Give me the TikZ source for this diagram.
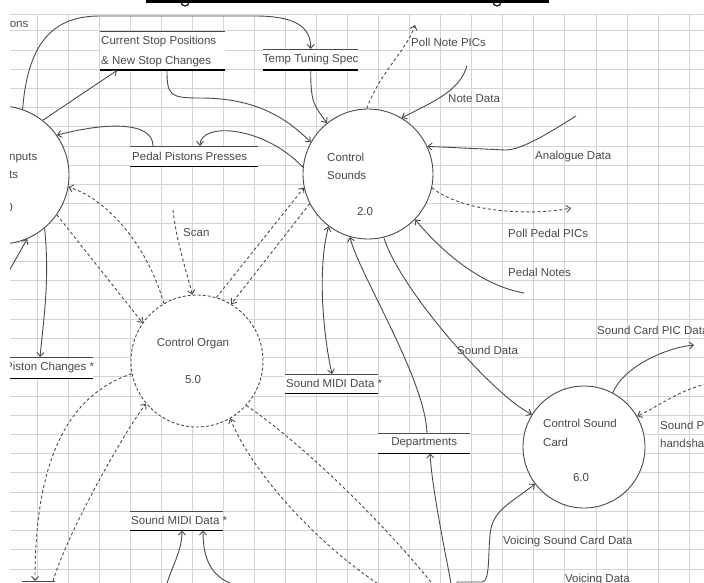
\documentclass[tikz,border=0pt]{standalone}
\usepackage{fontspec}
\setmainfont{Liberation Sans}
\usetikzlibrary{arrows.meta}
\definecolor{ink}{HTML}{4A4A4A}
\definecolor{gridgray}{HTML}{D4D4D4}
\definecolor{shade}{HTML}{A6A6A6}
\tikzset{
  proc/.style={draw=ink,line width=0.9pt,circle,fill=white,inner sep=0pt},
  ctlproc/.style={proc,dash pattern=on 3pt off 2pt},
  store/.style={fill=white,inner sep=0pt,anchor=north west},
  storetop/.style={ink,line width=0.9pt},
  storebot/.style={shade,line width=1.8pt},
  ptext/.style={text=ink,font=\fontsize{11.5}{18}\selectfont,inner sep=0pt},
  flowlabel/.style={ptext,anchor=west},
  flow/.style={-{Straight Barb[length=4pt,width=7pt]},ink,line width=0.9pt},
  biflow/.style={{Straight Barb[length=4pt,width=7pt]}-{Straight Barb[length=4pt,width=7pt]},ink,line width=0.9pt},
  ctrlflow/.style={flow,dash pattern=on 3pt off 2.5pt},
  gridline/.style={gridgray,line width=0.8pt}
}

\begin{document}
\begin{tikzpicture}[x=1pt,y=-1pt]
  \useasboundingbox (0,0) rectangle (704,583);
  \fill[white] (0,0) rectangle (704,583);

  % remnant of the title bar
  \fill[black] (146,0) rectangle (549,3.5);
  \draw[line width=1.1pt] (181,2) arc[start angle=180,end angle=0,radius=4];
  \draw[line width=1.1pt] (493,2) arc[start angle=180,end angle=0,radius=4];

  \begin{scope}
  \clip (10,5) rectangle (704,583);

  % grid paper
  \draw[gridline] (10,14) -- (704,14);
  \foreach \k in {0,...,28}
    \draw[gridline] (10,{30.8+19.22*\k}) -- (704,{30.8+19.22*\k});
  \foreach \k in {0,...,21}
    \draw[gridline] ({37+31.05*\k},14) -- ({37+31.05*\k},583);

  % processes
  \node[proc,minimum size=138pt] (inp) at (0,175) {};
  \node[proc,minimum size=130pt] (snd) at (368,174) {};
  \node[ctlproc,minimum size=132pt] (org) at (197,361) {};
  \node[proc,minimum size=122pt] (card) at (584,447) {};

  \node[ptext,anchor=west] (inp-a) at (9,158) {nputs};
  \node[ptext,anchor=west] (inp-b) at (9,175) {ts};
  \node[ptext,anchor=east] (inp-n) at (13,208) {1.0};
  \node[ptext,anchor=west] (snd-a) at (327,157) {Control};
  \node[ptext,anchor=west] (snd-b) at (327,175) {Sounds};
  \node[ptext] (snd-n) at (365,212) {2.0};
  \node[ptext] (org-a) at (193,344) {Control Organ};
  \node[ptext] (org-n) at (193,380) {5.0};
  \node[ptext,anchor=west] (card-a) at (543,423) {Control Sound};
  \node[ptext,anchor=west] (card-b) at (543,442) {Card};
  \node[ptext] (card-n) at (581,478) {6.0};

  % data stores
  \node[store,minimum width=125pt,minimum height=39pt] (cs) at (100,31) {};
  \node[store,minimum width=95pt,minimum height=21pt] (tts) at (263,49) {};
  \node[store,minimum width=128pt,minimum height=20pt] (pp) at (130,146) {};
  \node[store,minimum width=88pt,minimum height=21pt] (pc) at (5,357) {};
  \node[store,minimum width=93pt,minimum height=19pt] (smd) at (285,374) {};
  \node[store,minimum width=92pt,minimum height=20pt] (dep) at (378,433) {};
  \node[store,minimum width=93pt,minimum height=19pt] (smd2) at (130,511) {};
  \node[store,minimum width=33pt,minimum height=20pt] (bl) at (22,581) {};
  \foreach \s in {cs,tts,pp,pc,smd,dep,smd2,bl} {
    \draw[storetop] (\s.north west) -- (\s.north east);
    \draw[storebot] (\s.south west) -- (\s.south east);
  }

  \node[flowlabel] (cs-a) at (101,42) {Current Stop Positions};
  \node[flowlabel] (cs-b) at (101,62) {\& New Stop Changes};
  \node[ptext] (tts-a) at (tts.center) {Temp Tuning Spec};
  \node[flowlabel] (pp-a) at ([xshift=2pt]pp.west) {Pedal Pistons Presses};
  \node[flowlabel] (pc-a) at (pc.west) {Piston Changes *};
  \node[flowlabel] (smd-a) at ([xshift=1pt]smd.west) {Sound MIDI Data *};
  \node[ptext] (dep-a) at (dep.center) {Departments};
  \node[flowlabel] (smd2-a) at ([xshift=1pt]smd2.west) {Sound MIDI Data *};

  % flow labels
  \node[flowlabel] (top-l) at (7,23) {ions};
  \node[flowlabel] (lbl-pnp) at (411,42) {Poll Note PICs};
  \node[flowlabel] (lbl-nd) at (448,99) {Note Data};
  \node[flowlabel] (lbl-ad) at (535,157) {Analogue Data};
  \node[flowlabel] (lbl-ppp) at (508,233) {Poll Pedal PICs};
  \node[flowlabel] (lbl-pn) at (508,272) {Pedal Notes};
  \node[flowlabel] (lbl-sd) at (457,350) {Sound Data};
  \node[flowlabel] (lbl-scan) at (183,233) {Scan};
  \node[flowlabel] (lbl-scp) at (597,330) {Sound Card PIC Data};
  \node[flowlabel,align=left] (lbl-hs) at (660,434) {Sound PIC\\handshake};
  \node[flowlabel] (lbl-vsc) at (503,542) {Voicing Sound Card Data};
  \node[flowlabel] (lbl-vd) at (565,580) {Voicing Data};

  % free ends
  \coordinate (pnp) at (415,25);
  \coordinate (nd) at (467,66);
  \coordinate (ad) at (576,116);
  \coordinate (ppp) at (571,208);
  \coordinate (pn) at (524,293);
  \coordinate (scan) at (173,210);
  \coordinate (lb) at (4,280);
  \coordinate (lo) at (163,600);
  \coordinate (hub) at (457,620);
  \coordinate (scp) at (694,345);
  \coordinate (hs) at (712,383);

  % inputs process
  \draw[flow] (inp.71) .. controls (28,40) and (55,16) .. (100,16) -- (255,16)
    .. controls (292,16) and (311,25) .. (tts.north);
  \draw[flow] (inp.52) -- ([xshift=17pt]cs.south west);
  \draw[flow] ([xshift=23pt]pp.north west) .. controls +(0,-26) and +(45,-12) .. (inp.35);
  \draw[flow] (inp.-50) .. controls +(5,50) and +(4,-40) .. ([xshift=35pt]pc.north west);
  \draw[flow] (lb) -- (inp.-67);
  \draw[ctrlflow] (org.120) .. controls +(-15,-55) and +(40,12) .. (inp.-10);
  \draw[ctrlflow] (inp.-35) -- (org.145);

  % control sounds
  \draw[flow] ([xshift=67pt]cs.south west) .. controls +(0,25) and +(-30,0) .. (200,98)
    .. controls +(55,0) and +(-25,-25) .. (snd.151);
  \draw[flow] (snd.174) .. controls +(-40,-42) and +(0,-24) .. ([xshift=70pt]pp.north west);
  \draw[flow] (tts.south) .. controls +(0,35) and +(-12,-18) .. (snd.129);
  \draw[ctrlflow] (snd.91) .. controls +(12,-35) and +(-8,25) .. (pnp);
  \draw[flow] (nd) .. controls +(-8,25) and +(35,-18) .. (snd.59);
  \draw[flow] (ad) .. controls +(-35,22) and +(15,0) .. (505,150) -- (snd.25);
  \draw[ctrlflow] (snd.-12) .. controls +(30,25) and +(-40,8) .. (ppp);
  \draw[flow] (pn) .. controls +(-45,-8) and +(25,30) .. (snd.-44);
  \draw[flow] (snd.-76) .. controls +(15,50) and +(-40,-20) .. (card.148);
  \draw[flow] ([xshift=49pt]dep.north west) .. controls +(-2,-55) and +(8,35) .. (snd.-106);
  \draw[biflow] (snd.-127) .. controls +(-12,45) and +(-8,-35) .. ([xshift=47pt]smd.north west);

  % control organ
  \draw[ctrlflow] (org.73) -- (snd.192);
  \draw[ctrlflow] (snd.-153) -- (org.59);
  \draw[ctrlflow] (scan) .. controls +(3,30) and +(-5,-20) .. (org.94);
  \draw[ctrlflow] (org.191) .. controls +(-75,25) and +(0,-100) .. ([xshift=13pt]bl.north west);
  \draw[ctrlflow] ([xshift=31pt]bl.north west) .. controls +(15,-50) and +(-20,25) .. (org.220);
  \draw[ctrlflow] (org.-42) .. controls +(80,55) and +(-20,-40) .. (hub);
  \draw[ctrlflow] (hub) .. controls +(-80,-15) and +(30,75) .. (org.-60);

  % lower edge
  \draw[flow] (hub) .. controls +(0,-15) and +(3,50) .. ([xshift=52pt]dep.south west);
  \draw[flow] (hub) -- (457,582) -- (482,582) .. controls +(8,0) and +(-2,20) .. (490,535)
    .. controls +(2,-25) and +(-25,20) .. (card.-143);
  \draw[flow] (lo) .. controls +(5,-30) and +(0,25) .. ([xshift=52pt]smd2.south west);
  \draw[flow] (hub) .. controls +(-120,-5) and +(30,8) .. (232,584)
    .. controls +(-20,-8) and +(0,30) .. ([xshift=73pt]smd2.south west);

  % sound card
  \draw[flow] (card.62) .. controls +(10,-25) and +(-30,3) .. (scp);
  \draw[ctrlflow] (hs) .. controls +(-30,5) and +(25,-12) .. (card.30);
  \end{scope}
\end{tikzpicture}
\end{document}
